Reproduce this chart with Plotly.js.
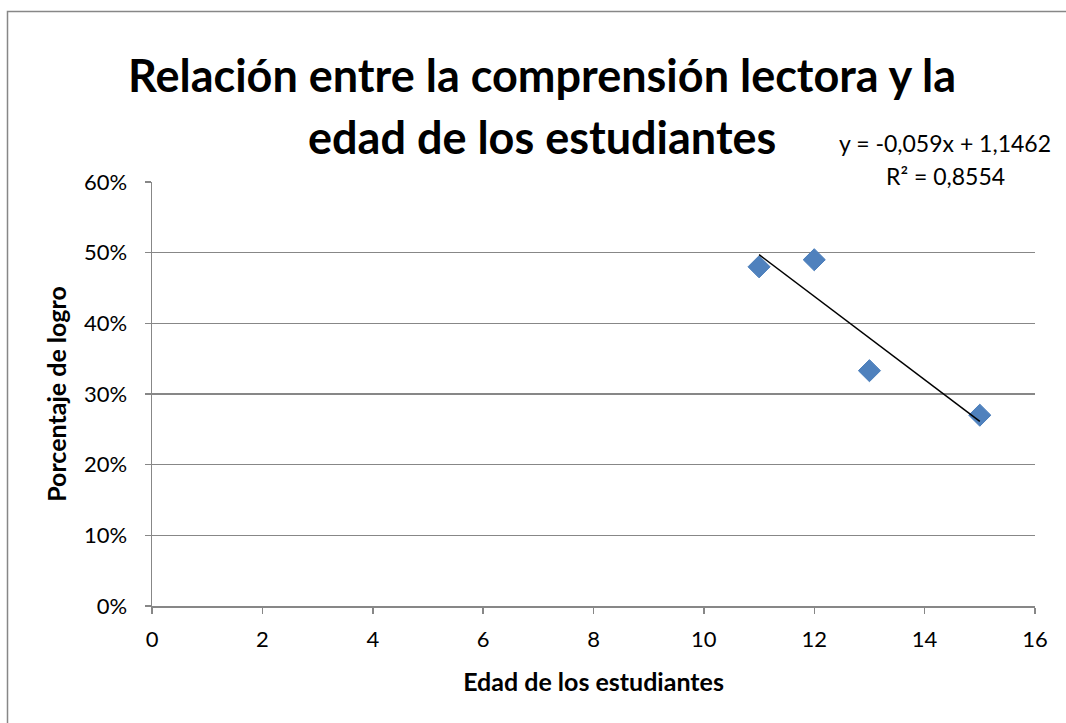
<!DOCTYPE html>
<html>
<head>
<meta charset="utf-8">
<script src="https://cdn.plot.ly/plotly-3.0.1.min.js"></script>
<style>
html,body{margin:0;padding:0;background:#fff;}
#chart{width:1066px;height:723px;}
</style>
</head>
<body>
<div id="chart"></div>
<script>
// Data
const ages = [11, 12, 13, 15];
const logro = [0.48, 0.49, 0.333, 0.27];
// Trendline as displayed on the chart
const trendSlope = -0.059;
const trendIntercept = 1.1462;
const trendX = [11, 15];
const yTicks = [0, 0.1, 0.2, 0.3, 0.4, 0.5, 0.6];
const yTickText = ['0%', '10%', '20%', '30%', '40%', '50%', '60%'];
const xTicks = [0, 2, 4, 6, 8, 10, 12, 14, 16];

const FONT = 'Lato, "Open Sans", "Liberation Sans", sans-serif';
const W = 1066, H = 723, L = 152, R = 31, T = 182, B = 117;
const pw = W - L - R, ph = H - T - B;
const px = x => (x - L) / pw;
const py = y => (H - B - y) / ph;

const trendY = trendX.map(x => trendSlope * x + trendIntercept);

const traces = [
  {
    x: ages, y: logro, type: 'scatter', mode: 'markers',
    marker: {symbol: 'diamond', size: 17, color: '#4F81BD', line: {color: '#4A7EBB', width: 1}},
    hoverinfo: 'x+y', showlegend: false
  },
  {
    x: trendX, y: trendY, type: 'scatter', mode: 'lines',
    line: {color: '#000000', width: 1.5}, hoverinfo: 'skip', showlegend: false
  }
];

const layout = {
  width: W, height: H,
  margin: {l: L, r: R, t: T, b: B, pad: 0},
  paper_bgcolor: '#ffffff', plot_bgcolor: '#ffffff',
  font: {family: FONT, size: 22, color: '#000'},
  showlegend: false,
  xaxis: {
    range: [0, 16], tickvals: xTicks, ticktext: xTicks.map(String),
    showgrid: false, zeroline: false,
    showline: true, linecolor: '#878787', linewidth: 1.5,
    ticks: 'outside', ticklen: 6, tickcolor: '#878787', tickwidth: 1.5,
    ticklabelstandoff: 7,
    tickfont: {family: FONT, size: 22, color: '#000'},
    title: {text: '<b>Edad de los estudiantes</b>', font: {family: FONT, size: 25, color: '#000'}, standoff: 22},
    fixedrange: true
  },
  yaxis: {
    range: [0, 0.6], tickvals: yTicks, ticktext: yTickText,
    showgrid: true, gridcolor: '#878787', gridwidth: 1.5, zeroline: false,
    showline: true, linecolor: '#878787', linewidth: 1.5,
    ticks: 'outside', ticklen: 6, tickcolor: '#878787', tickwidth: 1.5,
    ticklabelstandoff: 13,
    tickfont: {family: FONT, size: 22, color: '#000'},
    title: {text: '<b>Porcentaje de logro</b>', font: {family: FONT, size: 25, color: '#000'}, standoff: 10},
    fixedrange: true
  },
  annotations: [
    {
      xref: 'paper', yref: 'paper', x: px(542), y: py(75), xanchor: 'center', yanchor: 'middle',
      text: '<b>Relación entre la comprensión lectora y la</b>', showarrow: false,
      font: {family: FONT, size: 45, color: '#000'}
    },
    {
      xref: 'paper', yref: 'paper', x: px(542), y: py(137), xanchor: 'center', yanchor: 'middle',
      text: '<b>edad de los estudiantes</b>', showarrow: false,
      font: {family: FONT, size: 45, color: '#000'}
    },
    {
      xref: 'paper', yref: 'paper', x: px(1053), y: py(143), xanchor: 'right', yanchor: 'middle',
      text: 'y = -0,059x + 1,1462', showarrow: false,
      font: {family: FONT, size: 23, color: '#000'}
    },
    {
      xref: 'paper', yref: 'paper', x: px(945), y: py(176), xanchor: 'center', yanchor: 'middle',
      text: 'R² = 0,8554', showarrow: false,
      font: {family: FONT, size: 23, color: '#000'}
    }
  ],
  shapes: [
    {
      type: 'rect', xref: 'paper', yref: 'paper', layer: 'below',
      x0: px(7.5), x1: px(1080), y0: py(740), y1: py(11.5),
      line: {color: '#878787', width: 1.5}, fillcolor: 'rgba(0,0,0,0)'
    }
  ]
};

Plotly.newPlot('chart', traces, layout, {displayModeBar: false, staticPlot: true});
</script>
</body>
</html>
